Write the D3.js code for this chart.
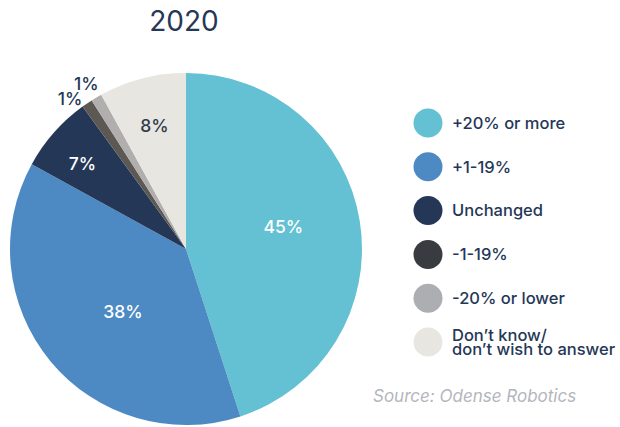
<!DOCTYPE html>
<html><head><meta charset="utf-8">
<script src="https://cdn.jsdelivr.net/npm/d3@7"></script>
<style>body{margin:0;background:#fff}svg{display:block}</style>
</head><body>
<svg id="c" width="620" height="427"></svg>
<script>
const title = "2020";
const categories = ["+20% or more", "+1-19%", "Unchanged", "-1-19%", "-20% or lower", "Don\u2019t know/\ndon\u2019t wish to answer"];
const values = [45, 38, 7, 1, 1, 8];
const labels = ["45%", "38%", "7%", "1%", "1%", "8%"];
const source = "Source: Odense Robotics";

const sliceColors = ["#64c0d3", "#4d8ac4", "#253757", "#5c5853", "#b0afad", "#e8e6e1"];
const legendColors = ["#64c0d3", "#4d8ac4", "#253757", "#383c40", "#adaeb2", "#e8e6e1"];
const labelColors = ["#ffffff", "#ffffff", "#ffffff", "#253757", "#253757", "#2f3a4c"];

const svg = d3.select("#c");
const font = "Inter, 'Open Sans', sans-serif";
const cx = 186, cy = 249, R = 176;

svg.append("text").attr("x", 184).attr("y", 31).attr("text-anchor", "middle")
  .attr("font-family", font).attr("font-size", 28).attr("font-weight", 400)
  .attr("fill", "#253757").text(title);

const pie = d3.pie().sort(null).value(d => d)(values);
const arc = d3.arc().innerRadius(0).outerRadius(R);
const g = svg.append("g").attr("transform", `translate(${cx},${cy})`);
g.selectAll("path").data(pie).join("path")
  .attr("d", arc).attr("fill", (d, i) => sliceColors[i]);

// label placement: radius fraction along mid-angle + small nudge
const labelR = [0.56, 0.51, 0.77, 1.0, 1.0, 0.72];
const nudge = [[0, -7], [6, 6], [-2, 4], [-17, -5], [-10, -14], [0, 0]];
const labelPos = pie.map((d, i) => {
  const a = (d.startAngle + d.endAngle) / 2;
  const r = R * labelR[i];
  return [Math.sin(a) * r + nudge[i][0], -Math.cos(a) * r + nudge[i][1]];
});

g.selectAll("text.lab").data(pie).join("text").attr("class", "lab")
  .attr("x", (d, i) => labelPos[i][0]).attr("y", (d, i) => labelPos[i][1])
  .attr("dy", "0.35em").attr("text-anchor", "middle")
  .attr("font-family", font).attr("font-size", 17.5).attr("font-weight", 500)
  .attr("fill", (d, i) => labelColors[i]).text((d, i) => labels[i]);

// legend
const ly = d3.scalePoint().domain(d3.range(categories.length)).range([123, 342]);
const lg = svg.append("g");
categories.forEach((c, i) => {
  const y = ly(i);
  lg.append("circle").attr("cx", 428).attr("cy", y).attr("r", 14.5).attr("fill", legendColors[i]);
  const lines = c.split("\n");
  const t = lg.append("text").attr("font-family", font).attr("font-size", 16.5)
    .attr("font-weight", 500).attr("fill", "#253757");
  lines.forEach((ln, j) => {
    t.append("tspan").attr("x", 452)
      .attr("y", y + (j - (lines.length - 1) / 2) * 14.5)
      .attr("dy", "0.35em").text(ln);
  });
});

svg.append("text").attr("x", 373).attr("y", 402)
  .attr("font-family", font).attr("font-size", 17).attr("font-style", "italic")
  .attr("fill", "#b3b6bc").text(source);
</script>
</body></html>
